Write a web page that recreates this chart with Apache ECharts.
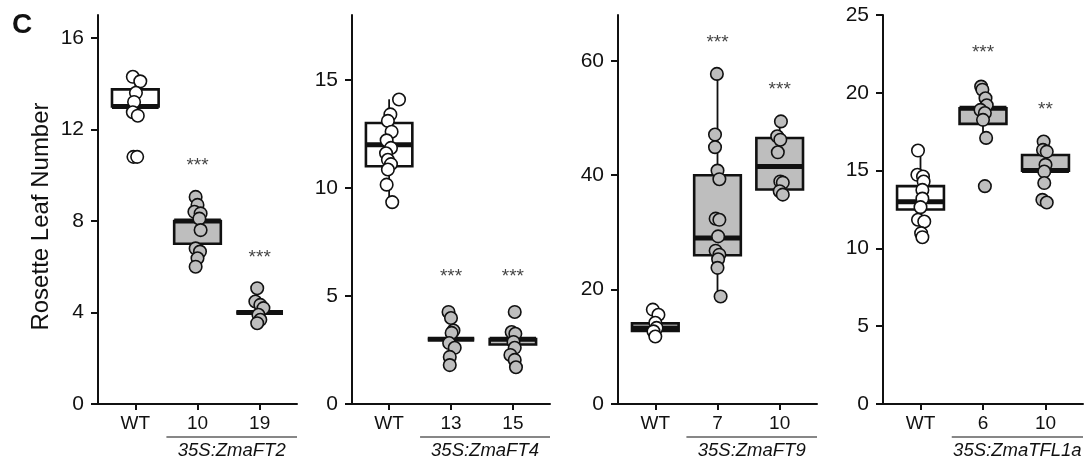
<!DOCTYPE html>
<html>
<head>
<meta charset="utf-8">
<script src="https://cdn.jsdelivr.net/npm/echarts@6/dist/echarts.min.js"></script>
<style>
  html, body { margin: 0; padding: 0; background: #fff; }
  #chart { width: 1086px; height: 461px; }
</style>
</head>
<body>
<div id="chart"></div>
<script>
// ---- data ----
const ft2Cats = ["WT", "10", "19"];
const ft4Cats = ["WT", "13", "15"];
const ft9Cats = ["WT", "7", "10"];
const tflCats = ["WT", "6", "10"];

const groupLabels = ["35S:ZmaFT2", "35S:ZmaFT4", "35S:ZmaFT9", "35S:ZmaTFL1a"];

// box stats per line: [min, q1, median, q3, max]
const ft2Box = [[12.6, 13, 13, 13.75, 14.3], [6.0, 7, 8, 8, 9.05], [4, 4, 4, 4, 4]];
const ft4Box = [[9.3, 11, 12, 13, 14.1], [3, 3, 3, 3, 3], [2.7, 2.75, 3, 3, 3.3]];
const ft9Box = [[11.8, 12.75, 13.3, 14.1, 15.6], [18.8, 26, 29, 40, 57.7], [36.6, 37.5, 41.5, 46.5, 49.4]];
const tflBox = [[10.7, 12.5, 13, 14, 16.3], [17.1, 18, 19, 19, 20.4], [14.2, 15, 15, 16, 16.9]];

// individual plants: [jitter offset, leaf number]
const ft2Pts = [
  [[-0.04, 14.3], [0.08, 14.1], [0.01, 13.6], [-0.02, 13.2], [-0.04, 12.75], [0.04, 12.6], [-0.03, 10.8], [0.03, 10.8]],
  [[-0.03, 9.05], [0, 8.7], [-0.05, 8.4], [0.05, 8.33], [0.03, 8.1], [0.05, 7.6], [-0.03, 6.8], [0.04, 6.66], [0, 6.37], [-0.03, 6.0]],
  [[-0.04, 5.06], [-0.07, 4.48], [0.01, 4.33], [0.06, 4.19], [-0.02, 3.9], [0.01, 3.68], [-0.04, 3.53]]
];
const ft4Pts = [
  [[0.16, 14.09], [0.02, 13.4], [-0.02, 13.1], [0.04, 12.6], [-0.04, 12.2], [0.03, 11.85], [-0.05, 11.6], [-0.02, 11.3], [0.03, 11.1], [-0.02, 10.85], [-0.04, 10.15], [0.05, 9.34]],
  [[-0.04, 4.26], [0, 3.98], [0.04, 3.4], [0.01, 3.29], [-0.03, 2.82], [0.06, 2.6], [-0.02, 2.18], [-0.02, 1.8]],
  [[0.03, 4.26], [-0.02, 3.33], [0.04, 3.25], [0.01, 2.87], [0.03, 2.6], [-0.04, 2.27], [0.03, 2.04], [0.05, 1.7]]
];
const ft9Pts = [
  [[-0.04, 16.5], [0.05, 15.6], [0, 14.2], [0.02, 13.3], [-0.03, 12.7], [0, 11.8]],
  [[-0.01, 57.7], [-0.04, 47.1], [-0.04, 44.9], [0, 40.8], [0.03, 39.3], [-0.03, 32.4], [0.03, 32.2], [0.01, 29.3], [-0.03, 26.8], [0.03, 26.1], [0.01, 25.3], [0, 23.8], [0.05, 18.8]],
  [[0.02, 49.4], [-0.04, 46.8], [0.01, 46.2], [-0.03, 44.0], [0.01, 38.9], [0.05, 38.7], [0, 37.2], [0.05, 36.6]]
];
const tflPts = [
  [[-0.04, 16.29], [-0.05, 14.73], [0.04, 14.62], [0.05, 14.3], [0.03, 13.76], [0.03, 13.2], [0, 12.65], [-0.04, 11.84], [0.06, 11.73], [0.01, 10.98], [0.03, 10.72]],
  [[-0.03, 20.4], [-0.01, 20.2], [0.04, 19.65], [0.06, 19.2], [-0.04, 18.9], [0.03, 18.7], [0, 18.26], [0.05, 17.1], [0.03, 14.0]],
  [[-0.03, 16.87], [-0.04, 16.33], [0.02, 16.22], [0, 15.37], [-0.02, 14.94], [-0.02, 14.2], [-0.05, 13.12], [0.02, 12.95]]
];

// significance marks and their heights
const ft2Stars = [["", 0], ["***", 10.4], ["***", 6.4]];
const ft4Stars = [["", 0], ["***", 5.9], ["***", 5.9]];
const ft9Stars = [["", 0], ["***", 63.2], ["***", 55.0]];
const tflStars = [["", 0], ["***", 22.6], ["**", 18.9]];

const yMaxes = [17, 18, 68, 25];
const ft2Ticks = [0, 4, 8, 12, 16];
const ft4Ticks = [0, 5, 10, 15];
const ft9Ticks = [0, 20, 40, 60];
const tflTicks = [0, 5, 10, 15, 20, 25];

// ---- layout ----
const FONT = "'Liberation Sans', Arial, sans-serif";
const GREY = "#bebebe";
const INK = "#111";
const panels = [
  { left: 98, width: 199, cats: ft2Cats, box: ft2Box, pts: ft2Pts, stars: ft2Stars, ticks: ft2Ticks },
  { left: 352, width: 198, cats: ft4Cats, box: ft4Box, pts: ft4Pts, stars: ft4Stars, ticks: ft4Ticks },
  { left: 618, width: 199, cats: ft9Cats, box: ft9Box, pts: ft9Pts, stars: ft9Stars, ticks: ft9Ticks },
  { left: 883, width: 200, cats: tflCats, box: tflBox, pts: tflPts, stars: tflStars, ticks: tflTicks }
];
const TOP = 15, BOTTOM = 57;

function renderBox(params, api) {
  const x = api.value(0);
  const lo = api.coord([x, api.value(1)]);
  const q1 = api.coord([x, api.value(2)]);
  const md = api.coord([x, api.value(3)]);
  const q3 = api.coord([x, api.value(4)]);
  const hi = api.coord([x, api.value(5)]);
  const w = api.size([0.75, 0])[0];
  const fill = api.value(6) ? GREY : "#fff";
  const line = { stroke: INK, lineWidth: 1.8 };
  return {
    type: "group",
    children: [
      { type: "line", shape: { x1: lo[0], y1: lo[1], x2: q1[0], y2: q1[1] }, style: line },
      { type: "line", shape: { x1: q3[0], y1: q3[1], x2: hi[0], y2: hi[1] }, style: line },
      { type: "rect", shape: { x: q3[0] - w / 2, y: q3[1], width: w, height: q1[1] - q3[1] },
        style: { fill: fill, stroke: INK, lineWidth: 2.6 } },
      { type: "line", shape: { x1: md[0] - w / 2, y1: md[1], x2: md[0] + w / 2, y2: md[1] },
        style: { stroke: INK, lineWidth: 5 } }
    ]
  };
}

const grids = [], xAxes = [], yAxes = [], series = [], graphics = [];

panels.forEach((p, k) => {
  grids.push({ left: p.left, top: TOP, width: p.width, bottom: BOTTOM, containLabel: false, outerBoundsMode: "none" });
  xAxes.push({
    type: "value", gridIndex: k, min: -0.6, max: 2.6,
    splitLine: { show: false },
    axisLine: { show: true, onZero: false, lineStyle: { color: INK, width: 2 } },
    axisTick: { show: true, length: 6, customValues: [0, 1, 2], lineStyle: { color: INK, width: 2 } },
    axisLabel: {
      customValues: [0, 1, 2], margin: 10, color: INK, fontSize: 19, fontFamily: FONT,
      formatter: v => p.cats[Math.round(v)]
    }
  });
  yAxes.push({
    type: "value", gridIndex: k, min: 0, max: yMaxes[k],
    name: k === 0 ? "Rosette Leaf Number" : "",
    nameLocation: "middle", nameGap: 45,
    nameTextStyle: { color: INK, fontSize: 24, fontFamily: FONT, padding: [0, 14, 0, 0] },
    splitLine: { show: false },
    axisLine: { show: true, onZero: false, lineStyle: { color: INK, width: 2 } },
    axisTick: { show: true, length: 7, customValues: p.ticks, lineStyle: { color: INK, width: 2 } },
    axisLabel: { customValues: p.ticks, margin: 14, color: INK, fontSize: 21, fontFamily: FONT }
  });

  series.push({
    type: "custom", xAxisIndex: k, yAxisIndex: k, z: 2,
    renderItem: renderBox,
    encode: { x: 0, y: [1, 2, 3, 4, 5] },
    data: p.box.map((b, i) => [i].concat(b, [i > 0 ? 1 : 0]))
  });

  const pts = [];
  p.pts.forEach((grp, i) => grp.forEach(d => pts.push([i + d[0], d[1], i])));
  series.push({
    type: "scatter", xAxisIndex: k, yAxisIndex: k, z: 3,
    symbolSize: 12.5,
    itemStyle: {
      color: params => (params.data[2] > 0 ? GREY : "#fff"),
      borderColor: INK, borderWidth: 1.6, opacity: 1
    },
    data: pts
  });

  series.push({
    type: "scatter", xAxisIndex: k, yAxisIndex: k, z: 4,
    symbolSize: 0, silent: true,
    label: {
      show: true, position: "inside", color: INK, fontSize: 19, fontFamily: FONT,
      formatter: params => params.data[2]
    },
    data: p.stars.map((s, i) => [i, s[1], s[0]]).filter(d => d[2])
  });

  // underline and label for the transgenic lines
  const unit = p.width / 3.2;
  const x1 = p.left + 1.1 * unit;
  const x2 = p.left + p.width;
  graphics.push({ type: "line", shape: { x1: x1, y1: 437, x2: x2, y2: 437 }, style: { stroke: INK, lineWidth: 1.2 } });
  graphics.push({
    type: "text", x: (x1 + x2) / 2, y: 451,
    style: { text: groupLabels[k], fill: INK, font: "italic 18.5px " + FONT, align: "center", verticalAlign: "middle" }
  });
});

graphics.push({ type: "text", left: 12, top: 11, style: { text: "C", fill: INK, font: "bold 28px " + FONT } });

const chart = echarts.init(document.getElementById("chart"), null, { renderer: "canvas" });
chart.setOption({
  animation: false,
  backgroundColor: "#fff",
  grid: grids,
  xAxis: xAxes,
  yAxis: yAxes,
  series: series,
  graphic: graphics
});
window.addEventListener("resize", chart.resize);
</script>
</body>
</html>
